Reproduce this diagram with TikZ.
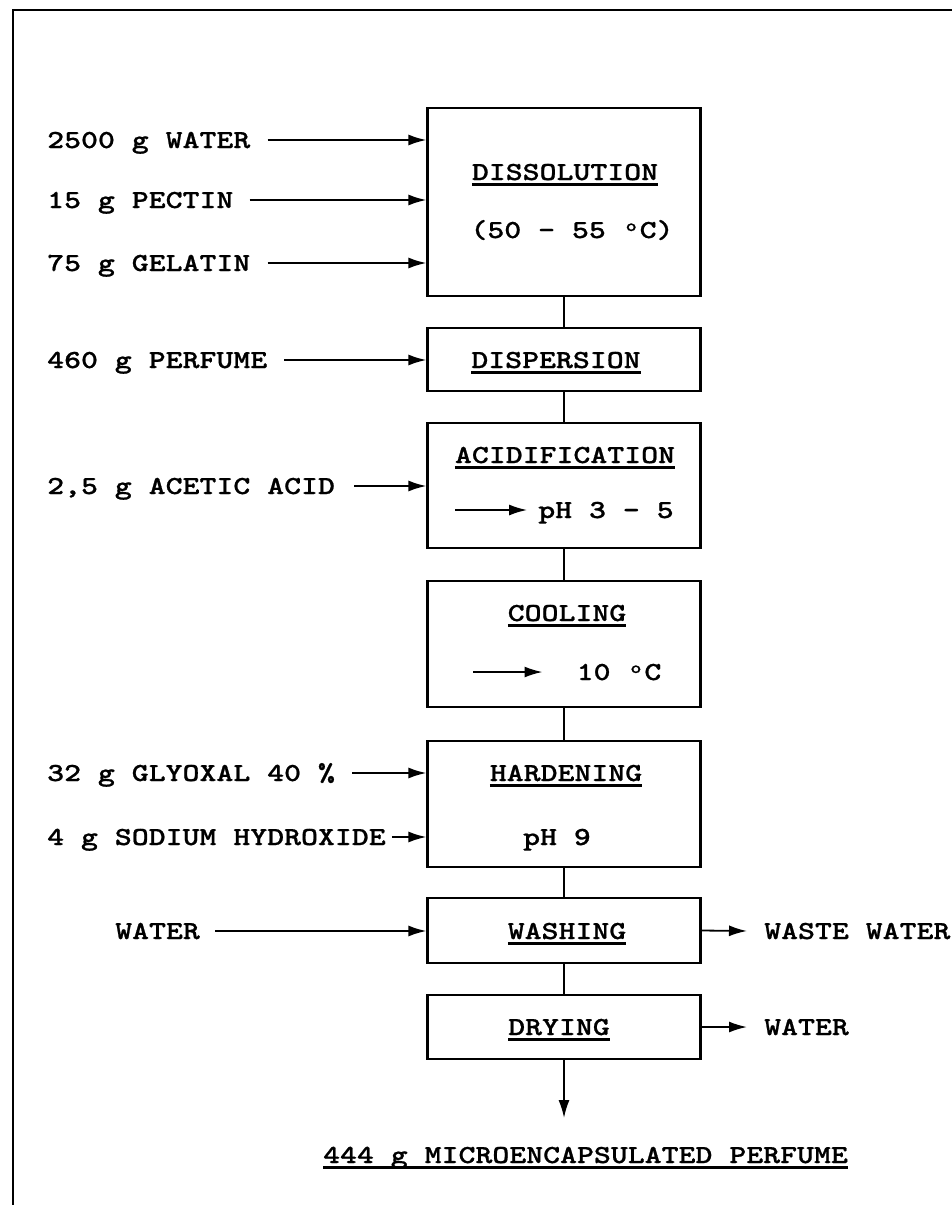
\documentclass[tikz,border=0pt]{standalone}
\usepackage{fontspec}
\newfontfamily\flowfont{lmmonolt10-bold}[Extension=.otf,FakeStretch=1.24,FakeBold=0.8]
\usetikzlibrary{arrows.meta,positioning}
% underline drawn as a thick rule below the baseline
\newcommand\ulx[1]{\setbox0\hbox{#1}\rlap{\vrule width\wd0 height -3pt depth 5.5pt}\box0}
% degree sign filling one character cell
\newcommand\degx{\makebox[16.9pt]{\raisebox{7pt}{\fontsize{17}{17}\selectfont o}}}
\tikzset{
  stage/.style={draw, line width=2.2pt, minimum width=273pt, inner sep=0pt},
  txt/.style={font=\flowfont\fontsize{26}{30}\selectfont, inner sep=0pt, text height=16pt, text depth=0pt},
  flow/.style={line width=1.8pt, -{Latex[length=18pt,width=11pt]}},
  link/.style={line width=2pt},
}
\begin{document}
\begin{tikzpicture}[x=1pt,y=-1pt]
\useasboundingbox (0,0) rectangle (952,1205);
\draw[line width=1.5pt] (13,1205) -- (13,10) -- (952,10);
% process stages
\node[stage, minimum height=188pt] (diss) at (564,202) {};
\node[stage, minimum height=63pt] (disp) at (564,359.5) {};
\node[stage, minimum height=125pt] (acid) at (564,485.5) {};
\node[stage, minimum height=126pt] (cool) at (564,644) {};
\node[stage, minimum height=126pt] (hard) at (564,804) {};
\node[stage, minimum height=65pt] (wash) at (564,930.5) {};
\node[stage, minimum height=64pt] (dry) at (564,1027) {};
\foreach \a/\b in {diss/disp, disp/acid, acid/cool, cool/hard, hard/wash, wash/dry}
  \draw[link] (\a) -- (\b);
% texts in the stages
\node[txt] (dissT) at (565,172) {\ulx{DISSOLUTION}};
\node[txt] (dissC) at (572,230) {(50 - 55 \degx C)};
\node[txt] (dispT) at (556,360) {\ulx{DISPERSION}};
\node[txt] (acidT) at (565,455) {\ulx{ACIDIFICATION}};
\node[txt] (acidpH) at (606,510) {pH 3 - 5};
\node[txt] (coolT) at (567,613) {\ulx{COOLING}};
\node[txt] (coolC) at (619,672) {10 \degx C};
\node[txt] (hardT) at (566,773) {\ulx{HARDENING}};
\node[txt] (hardpH) at (557,837) {pH 9};
\node[txt] (washT) at (567,931) {\ulx{WASHING}};
\node[txt] (dryT) at (559,1027) {\ulx{DRYING}};
\coordinate (acidA) at (455,510);
\coordinate (coolA) at (473,672);
\draw[flow] (acidA) -- ([xshift=-11pt]acidpH.west);
\draw[flow] (coolA) -- ([xshift=-34pt]coolC.west);
% inputs
\node[txt, anchor=west] (w1) at (47,140) {2500 g WATER};
\node[txt, anchor=west] (w2) at (47,200) {15 g PECTIN};
\node[txt, anchor=west] (w3) at (47,263) {75 g GELATIN};
\node[txt, anchor=west] (pf) at (47,360) {460 g PERFUME};
\node[txt, anchor=west] (aa) at (47,486) {2,5 g ACETIC ACID};
\node[txt, anchor=west] (gx) at (47,773) {32 g GLYOXAL 40 \%};
\node[txt, anchor=west] (nh) at (47,837) {4 g SODIUM HYDROXIDE};
\node[txt, anchor=west] (ww) at (115,931) {WATER};
\draw[flow] ([xshift=17pt]w1.east) -- (w1 -| diss.west);
\draw[flow] ([xshift=16pt]w2.east) -- (w2 -| diss.west);
\draw[flow] ([xshift=17pt]w3.east) -- (w3 -| diss.west);
\draw[flow] ([xshift=17pt]pf.east) -- (pf -| disp.west);
\draw[flow] ([xshift=19pt]aa.east) -- (aa -| acid.west);
\draw[flow] ([xshift=17pt]gx.east) -- (gx -| hard.west);
\draw[flow] ([xshift=6pt]nh.east) -- (nh -| hard.west);
\draw[flow] ([xshift=15pt]ww.east) -- (ww -| wash.west);
% outputs
\node[txt, anchor=west] (wst) at (764,931) {WASTE WATER};
\node[txt, anchor=west] (wv) at (764,1027) {WATER};
\draw[flow] (wash.east) -- ([xshift=-17pt]wst.west);
\draw[flow] (dry.east) -- ([xshift=-17pt]wv.west);
\coordinate (prodA) at (564,1118);
\draw[flow] (dry.south) -- (prodA);
\node[txt] (prod) at (585.5,1155) {\ulx{444 g MICROENCAPSULATED PERFUME}};
\end{tikzpicture}
\end{document}
